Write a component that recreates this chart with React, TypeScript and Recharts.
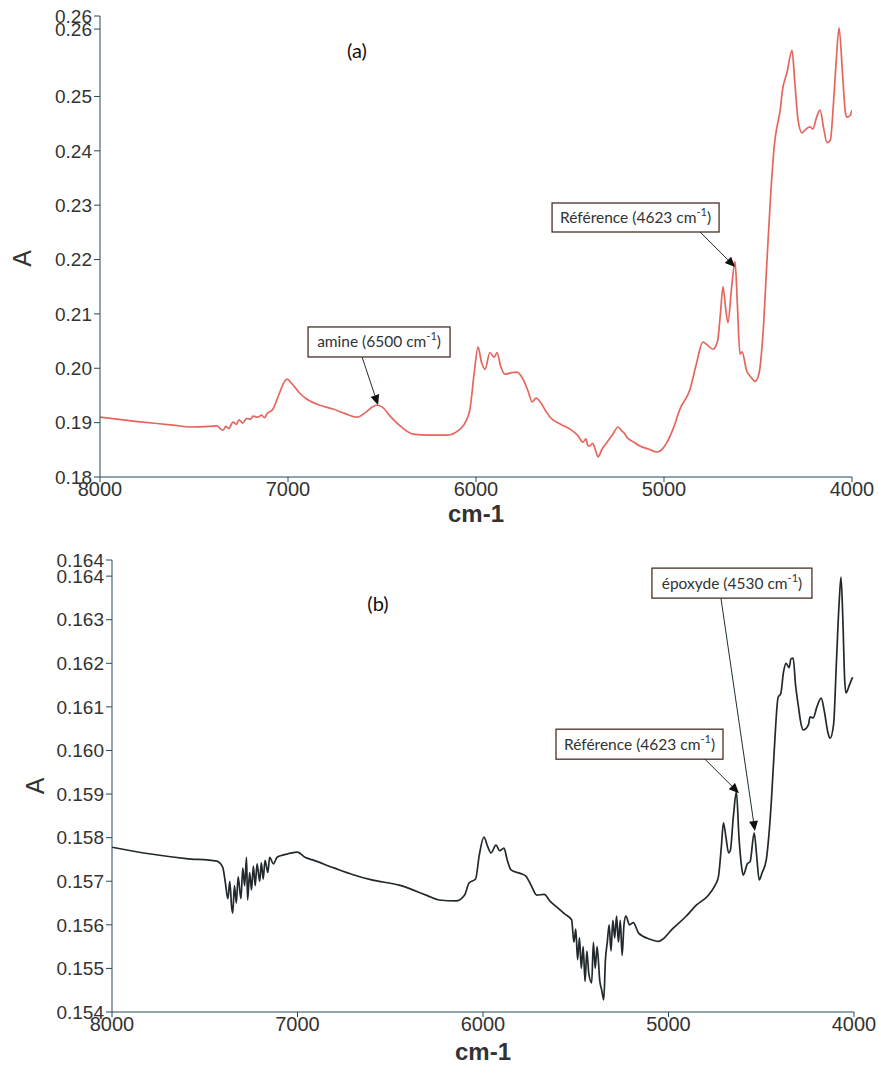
import React from 'react'
import { LineChart, Line, XAxis, YAxis, ReferenceDot } from 'recharts'

// (a) spectre haut, rouge
const topWn = [
  8000, 7800, 7600, 7521, 7420, 7378, 7360, 7346, 7330, 7315, 7293, 7275, 7260, 7240, 7220, 7200,
  7186, 7160, 7140, 7125, 7112, 7080, 7050, 7020, 7005, 6980, 6940, 6899, 6830, 6761, 6700, 6633,
  6590, 6550, 6527, 6500, 6457, 6400, 6335, 6250, 6154, 6085, 6050, 6032, 6010, 5989, 5970, 5952,
  5926, 5904, 5888, 5870, 5846, 5810, 5782, 5750, 5720, 5702, 5680, 5660, 5630, 5606, 5550, 5500,
  5460, 5431, 5415, 5405, 5394, 5380, 5365, 5351, 5330, 5303, 5270, 5245, 5225, 5210, 5197, 5160,
  5128, 5080, 5037, 5010, 4984, 4950, 4915, 4862, 4830, 4793, 4770, 4739, 4715, 4700, 4686, 4672,
  4660, 4640, 4622, 4610, 4596, 4585, 4560, 4540, 4516, 4495, 4473, 4452, 4431, 4410, 4399, 4380,
  4372, 4345, 4319, 4305, 4287, 4266, 4245, 4223, 4208, 4190, 4170, 4150, 4133, 4115, 4100, 4085,
  4069, 4050, 4035, 4027, 4010, 4000,
]
const topA = [
  0.1910, 0.1902, 0.1895, 0.1892, 0.1893, 0.1894, 0.1889, 0.1886, 0.1893, 0.1889, 0.1901, 0.1897, 0.1905, 0.1899, 0.1908, 0.1906,
  0.1912, 0.1910, 0.1914, 0.1909, 0.1916, 0.1925, 0.1950, 0.1975, 0.1980, 0.1972, 0.1955, 0.1943, 0.1932, 0.1925, 0.1917, 0.1910,
  0.1918, 0.1929, 0.1932, 0.1929, 0.1912, 0.1893, 0.1879, 0.1877, 0.1877, 0.1888, 0.1905, 0.1925, 0.1990, 0.2039, 0.2010, 0.1998,
  0.2029, 0.2020, 0.2029, 0.2005, 0.1989, 0.1992, 0.1993, 0.1980, 0.1955, 0.1938, 0.1945, 0.1939, 0.1922, 0.1910, 0.1897, 0.1888,
  0.1877, 0.1864, 0.1870, 0.1858, 0.1857, 0.1862, 0.1850, 0.1837, 0.1851, 0.1864, 0.1880, 0.1892, 0.1885, 0.1880, 0.1873, 0.1864,
  0.1857, 0.1851, 0.1846, 0.1851, 0.1864, 0.1890, 0.1925, 0.1961, 0.2005, 0.2048, 0.2043, 0.2035, 0.2050, 0.2100, 0.2150, 0.2110,
  0.2084, 0.2150, 0.2196, 0.2120, 0.2026, 0.2030, 0.1995, 0.1985, 0.1976, 0.1990, 0.2066, 0.2200, 0.2328, 0.2420, 0.2444, 0.2480,
  0.2506, 0.2545, 0.2585, 0.2530, 0.2457, 0.2433, 0.2440, 0.2444, 0.2440, 0.2460, 0.2475, 0.2440, 0.2415, 0.2420, 0.2480, 0.2560,
  0.2626, 0.2540, 0.2470, 0.2462, 0.2465, 0.2475,
]

// (b) spectre bas, noir
const botWn = [
  8000, 7800, 7600, 7435, 7403, 7390, 7375, 7365, 7355, 7349, 7340, 7330, 7320, 7305, 7295, 7285,
  7275, 7269, 7258, 7248, 7238, 7228, 7218, 7204, 7195, 7185, 7175, 7160, 7150, 7130, 7110, 7080,
  7050, 7000, 6960, 6919, 6800, 6700, 6600, 6452, 6300, 6237, 6145, 6100, 6075, 6040, 6020, 5995,
  5975, 5957, 5930, 5910, 5887, 5870, 5849, 5800, 5769, 5740, 5710, 5670, 5640, 5600, 5560, 5522,
  5510, 5500, 5490, 5480, 5470, 5460, 5450, 5440, 5430, 5414, 5405, 5395, 5385, 5370, 5360, 5349,
  5340, 5330, 5320, 5310, 5300, 5290, 5280, 5270, 5260, 5250, 5240, 5230, 5210, 5190, 5161, 5100,
  5054, 5038, 4980, 4909, 4850, 4785, 4750, 4731, 4715, 4704, 4690, 4676, 4667, 4650, 4634, 4620,
  4605, 4597, 4575, 4560, 4538, 4525, 4511, 4495, 4473, 4460, 4446, 4430, 4409, 4395, 4380, 4366,
  4350, 4340, 4328, 4315, 4301, 4285, 4274, 4260, 4245, 4237, 4220, 4200, 4177, 4160, 4140, 4129,
  4110, 4095, 4080, 4070, 4060, 4050, 4043, 4025, 4008,
]
const botA = [
  0.15778, 0.15763, 0.15752, 0.15746, 0.15732, 0.15700, 0.15660, 0.15700, 0.15640, 0.15627, 0.15690, 0.15650, 0.15710, 0.15660, 0.15730, 0.15690,
  0.15755, 0.15657, 0.15720, 0.15680, 0.15735, 0.15690, 0.15740, 0.15700, 0.15742, 0.15705, 0.15748, 0.15720, 0.15755, 0.15740, 0.15755, 0.15760,
  0.15763, 0.15767, 0.15755, 0.15749, 0.15730, 0.15715, 0.15703, 0.15691, 0.15667, 0.15657, 0.15655, 0.15668, 0.15696, 0.15705, 0.15760, 0.15801,
  0.15780, 0.15765, 0.15783, 0.15770, 0.15776, 0.15750, 0.15726, 0.15718, 0.15712, 0.15690, 0.15668, 0.15670, 0.15655, 0.15640, 0.15625, 0.15611,
  0.15560, 0.15590, 0.15520, 0.15570, 0.15500, 0.15550, 0.15470, 0.15540, 0.15490, 0.15467, 0.15560, 0.15500, 0.15550, 0.15470, 0.15450, 0.15428,
  0.15520, 0.15560, 0.15600, 0.15540, 0.15610, 0.15570, 0.15620, 0.15560, 0.15610, 0.15530, 0.15600, 0.15620, 0.15600, 0.15605, 0.15581, 0.15567,
  0.15562, 0.15565, 0.15590, 0.15618, 0.15645, 0.15668, 0.15690, 0.15710, 0.15780, 0.15834, 0.15800, 0.15765, 0.15770, 0.15850, 0.15905, 0.15800,
  0.15730, 0.15714, 0.15740, 0.15745, 0.15811, 0.15760, 0.15703, 0.15720, 0.15749, 0.15800, 0.15880, 0.16000, 0.16122, 0.16130, 0.16180, 0.16200,
  0.16190, 0.16210, 0.16212, 0.16150, 0.16105, 0.16060, 0.16047, 0.16050, 0.16060, 0.16077, 0.16075, 0.16100, 0.16120, 0.16090, 0.16040, 0.16028,
  0.16060, 0.16200, 0.16340, 0.16398, 0.16300, 0.16160, 0.16132, 0.16150, 0.16168,
]

const xTicks = [8000, 7000, 6000, 5000, 4000]
const topYTicks = [0.18, 0.19, 0.2, 0.21, 0.22, 0.23, 0.24, 0.25, 0.2624, 0.2648]
const topYLabels = ['0.18', '0.19', '0.20', '0.21', '0.22', '0.23', '0.24', '0.25', '0.26', '0.26']
const botYTicks = [0.154, 0.155, 0.156, 0.157, 0.158, 0.159, 0.16, 0.161, 0.162, 0.163, 0.164, 0.16437]
const botYLabels = ['0.154', '0.155', '0.156', '0.157', '0.158', '0.159', '0.160', '0.161', '0.162', '0.163', '0.164', '0.164']

// annotations : pic visé (cm-1, A) et texte
const topNotes = [
  { wn: 6521, a: 0.19325, text: 'amine (6500 cm' },
  { wn: 4622, a: 0.21863, text: 'Référence (4623 cm' },
]
const botNotes = [
  { wn: 4620, a: 0.15902, text: 'Référence (4623 cm' },
  { wn: 4534, a: 0.15815, text: 'époxyde (4530 cm' },
]

// géométrie des encadrés, relative à la pointe de la flèche
const topBoxes = [
  { bx: -70, by: -78, w: 142, h: 30, sx: -16, sy: -48 },
  { bx: -183, by: -64, w: 167, h: 29, sx: -35, sy: -35 },
]
const botBoxes = [
  { bx: -183, by: -64, w: 167, h: 30, sx: -34, sy: -34 },
  { bx: -103, by: -263, w: 160, h: 30, sx: -34, sy: -233 },
]

const AXIS = '#24485a'
const INK = '#333'
const SANS = '"Liberation Sans", Arial, sans-serif'
const NOTE_FONT = 'Lato, "Open Sans", sans-serif'

function Callout({ cx, cy, text, box }: any) {
  if (cx == null || cy == null) return null
  const x0 = cx + box.sx
  const y0 = cy + box.sy
  const ang = Math.atan2(cy - y0, cx - x0)
  const len = 10
  const hw = 4.5
  const bx = cx - len * Math.cos(ang)
  const by = cy - len * Math.sin(ang)
  const p1 = `${bx + hw * Math.sin(ang)},${by - hw * Math.cos(ang)}`
  const p2 = `${bx - hw * Math.sin(ang)},${by + hw * Math.cos(ang)}`
  return (
    <g>
      <rect x={cx + box.bx} y={cy + box.by} width={box.w} height={box.h} fill="#fff" stroke="#4a3028" strokeWidth={1.3} />
      <text
        x={cx + box.bx + box.w / 2}
        y={cy + box.by + box.h / 2 + 5.5}
        textAnchor="middle"
        fontFamily={NOTE_FONT}
        fontSize={15.5}
        fill={INK}
      >
        {text}
        <tspan dy={-7} fontSize={11}>-1</tspan>
        <tspan dy={7}>)</tspan>
      </text>
      <line x1={x0} y1={y0} x2={bx} y2={by} stroke="#1f2f38" strokeWidth={1} />
      <polygon points={`${cx},${cy} ${p1} ${p2}`} fill="#111" />
    </g>
  )
}

function LetterA({ viewBox, dx, dy }: any) {
  const x = viewBox.x + dx
  const y = viewBox.y + viewBox.height / 2 + dy
  return (
    <text x={x} y={y} transform={`rotate(-90 ${x} ${y})`} textAnchor="middle" dominantBaseline="central" fontFamily={SANS} fontSize={25} fill={INK}>
      A
    </text>
  )
}

function Spectre({ wn, a, color, height, margin, yWidth, xHeight, yDomain, yTicks, yLabels, notes, boxes, letterDx, letterDy, labelOffset }: any) {
  const data = wn.map((w: number, i: number) => ({ wn: w, a: a[i] }))
  return (
    <LineChart width={879} height={height} data={data} margin={margin}>
      <XAxis
        dataKey="wn"
        type="number"
        domain={[4000, 8000]}
        reversed
        ticks={xTicks}
        interval={0}
        allowDataOverflow
        height={xHeight}
        stroke={AXIS}
        tickSize={5}
        tickMargin={0}
        tick={{ fontSize: 20, fill: INK, fontFamily: SANS }}
        label={{ value: 'cm-1', position: 'insideBottom', offset: labelOffset, fontSize: 24, fontWeight: 'bold', fill: INK, fontFamily: SANS }}
      />
      <YAxis
        type="number"
        domain={yDomain}
        ticks={yTicks}
        interval={0}
        allowDataOverflow
        width={yWidth}
        stroke={AXIS}
        tickSize={6}
        tickMargin={2}
        tick={{ fontSize: 19, fill: INK, fontFamily: SANS }}
        tickFormatter={(v: number, i: number) => yLabels[i] ?? String(v)}
        label={<LetterA dx={letterDx} dy={letterDy} />}
      />
      <Line type="monotone" dataKey="a" stroke={color} strokeWidth={1.7} dot={false} isAnimationActive={false} />
      {notes.map((n: any, i: number) => (
        <ReferenceDot
          key={i}
          x={n.wn}
          y={n.a}
          r={0}
          ifOverflow="visible"
          shape={(p: any) => <Callout cx={p.cx} cy={p.cy} text={n.text} box={boxes[i]} />}
        />
      ))}
    </LineChart>
  )
}

const tagStyle: React.CSSProperties = {
  position: 'absolute',
  fontFamily: NOTE_FONT,
  fontSize: 20,
  color: '#111',
  transform: 'translate(-50%, -50%)',
}

export default function App() {
  return (
    <div style={{ position: 'absolute', left: 0, top: 0, width: 879, height: 1066, background: '#fff' }}>
      <div style={{ position: 'absolute', left: 0, top: 0 }}>
        <Spectre
          wn={topWn}
          a={topA}
          color="#e6665e"
          height={530}
          margin={{ top: 16, right: 27, bottom: 0, left: 0 }}
          yWidth={100}
          xHeight={53}
          yDomain={[0.18, 0.2648]}
          yTicks={topYTicks}
          yLabels={topYLabels}
          notes={topNotes}
          boxes={topBoxes}
          letterDx={22}
          letterDy={12}
          labelOffset={8}
        />
      </div>
      <div style={{ position: 'absolute', left: 0, top: 530 }}>
        <Spectre
          wn={botWn}
          a={botA}
          color="#22292d"
          height={536}
          margin={{ top: 30, right: 25, bottom: 0, left: 0 }}
          yWidth={112}
          xHeight={54}
          yDomain={[0.154, 0.16437]}
          yTicks={botYTicks}
          yLabels={botYLabels}
          notes={botNotes}
          boxes={botBoxes}
          letterDx={35}
          letterDy={0}
          labelOffset={6}
        />
      </div>
      <div style={{ ...tagStyle, left: 357, top: 50 }}>(a)</div>
      <div style={{ ...tagStyle, left: 378, top: 603 }}>(b)</div>
    </div>
  )
}
